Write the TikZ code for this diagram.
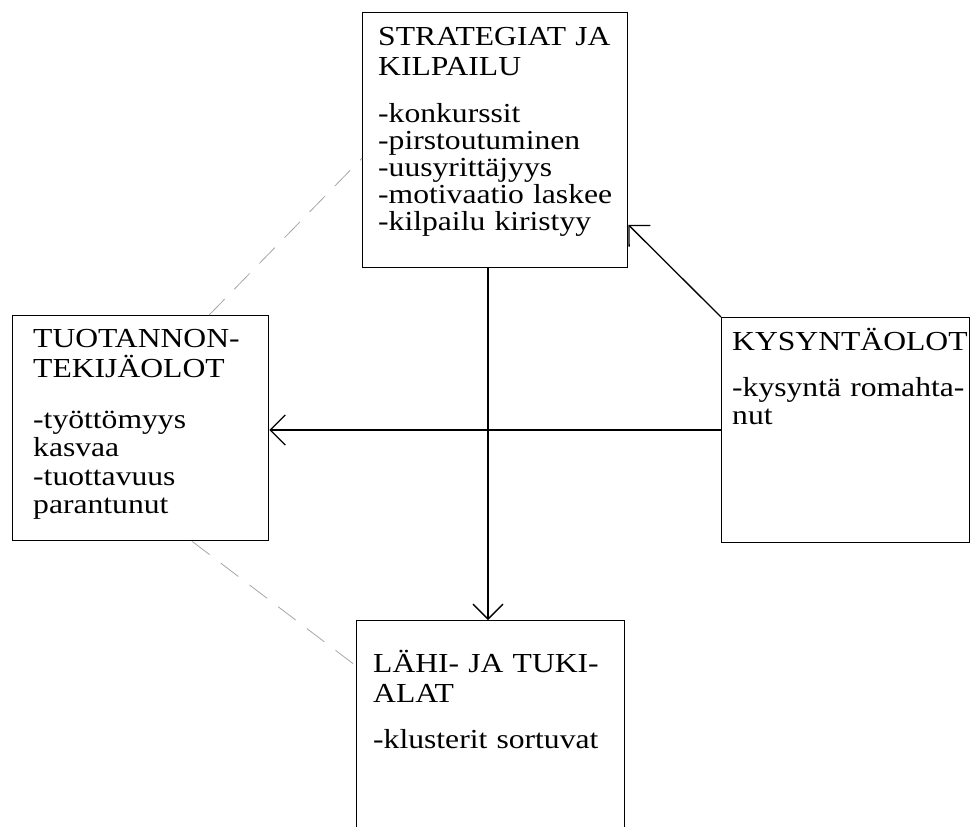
\documentclass[tikz,border=0pt]{standalone}
\usepackage{fontspec}
\setmainfont[FakeStretch=1.15]{Liberation Serif}
\usetikzlibrary{arrows.meta,calc}

\tikzset{
	box/.style={draw, line width=1.4pt, anchor=north west, inner sep=0pt},
	head/.style={anchor=base west, inner sep=0pt, text width=300pt, align=left, font=\fontsize{27.5}{30.5}\selectfont},
	list/.style={anchor=base west, inner sep=0pt, text width=300pt, align=left, font=\fontsize{27.5}{#1}\selectfont},
	link/.style={line width=1.3pt, -{Straight Barb[length=15pt,width=30pt,line width=1.3pt]}},
	hint/.style={gray!70, line width=0.8pt, dash pattern=on 22pt off 14pt}
}

\begin{document}
\begin{tikzpicture}[x=1pt, y=-1pt]
		\useasboundingbox (0,0) rectangle (975,827);
		\clip (0,0) rectangle (975,827);
		\node[box, minimum width=265pt, minimum height=255pt] (strat) at (362,12) {};
		\node[box, minimum width=256pt, minimum height=225pt] (tuot) at (12,315) {};
		\node[box, minimum width=248pt, minimum height=225pt] (kys) at (721,317) {};
		\node[box, minimum width=268pt, minimum height=240pt] (lahi) at (356,620) {};

		\node[head] (stratHead) at ([shift={(16,33)}]strat.north west) {STRATEGIAT JA\\KILPAILU};
		\node[list=27pt] (stratList) at ([shift={(16,110)}]strat.north west) {-konkurssit\\-pirstoutuminen\\-uusyrittäjyys\\-motivaatio laskee\\-kilpailu kiristyy};
		\node[head] (tuotHead) at ([shift={(21,32)}]tuot.north west) {TUOTANNON-\\TEKIJÄOLOT};
		\node[list=28.5pt] (tuotList) at ([shift={(21,113)}]tuot.north west) {-työttömyys\\kasvaa\\-tuottavuus\\parantunut};
		\node[head] (kysHead) at ([shift={(11,33)}]kys.north west) {KYSYNTÄOLOT};
		\node[list=28pt] (kysList) at ([shift={(11,79)}]kys.north west) {-kysyntä romahta-\\nut};
		\node[head] (lahiHead) at ([shift={(17,52)}]lahi.north west) {LÄHI- JA TUKI-\\ALAT};
		\node[list=27pt] (lahiList) at ([shift={(17,128)}]lahi.north west) {-klusterit sortuvat};

		\coordinate (midline) at (488,0);
		\coordinate (midrow) at (0,430);
		\draw[link] (strat.south -| midline) -- (lahi.north -| midline);
		\draw[link] (kys.west |- midrow) -- (tuot.east |- midrow);
		\draw[link] (kys.north west) -- ($(strat.north east)!0.83!(strat.south east)$);
		\draw[hint] ($(tuot.north west)!0.766!(tuot.north east)$) -- ($(strat.north west)!0.57!(strat.south west)$);
		\draw[hint] ($(tuot.south west)!0.70!(tuot.south east)$) -- ($(lahi.north west)!0.19!(lahi.south west)$);
\end{tikzpicture}
\end{document}
